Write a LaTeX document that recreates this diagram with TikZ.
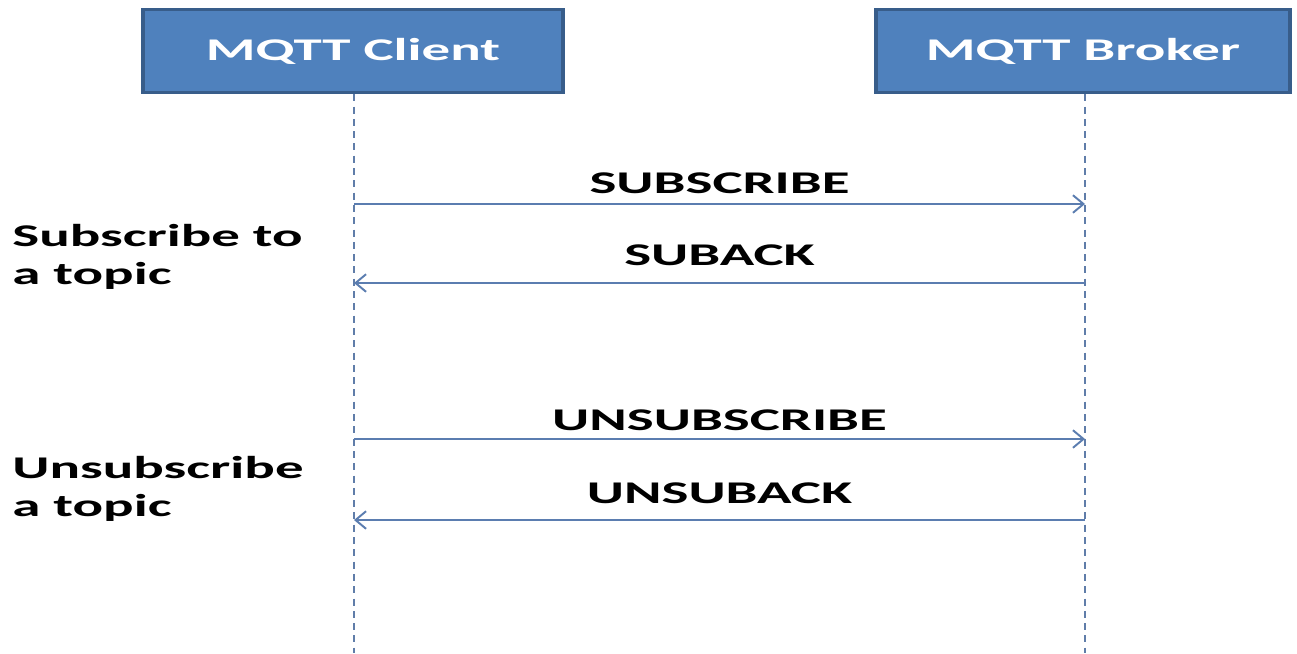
\documentclass[tikz,border=0pt]{standalone}
\usepackage{fontspec}
\setmainfont[FakeStretch=1.8]{Carlito}
\usetikzlibrary{arrows.meta}
\definecolor{boxblue}{HTML}{4F81BD}
\definecolor{boxedge}{HTML}{385D8A}
\definecolor{lineblue}{HTML}{5B7DB0}
\tikzset{
  actor/.style={draw=boxedge, line width=2pt, fill=boxblue, text=white,
    minimum height=1.66cm, inner sep=0pt, font=\fontsize{18}{22}\selectfont\bfseries},
  lifeline/.style={draw=lineblue!85!gray, line width=1.3pt, dash pattern=on 4pt off 3pt},
  msg/.style={draw=lineblue, line width=1.1pt, -{Straight Barb[length=6pt, width=10pt]}},
  msglabel/.style={font=\fontsize{18}{22}\selectfont\bfseries, inner sep=0pt},
  note/.style={font=\fontsize{18}{21.5}\selectfont\bfseries, align=left, anchor=west, inner sep=0pt}
}
\begin{document}
\begin{tikzpicture}[x=0.02cm, y=-0.02cm]
    \useasboundingbox (0,0) rectangle (1297,653);
    % participants
    \node[actor, minimum width=8.4cm] (client) at (353,51) {MQTT Client};
    \node[actor, minimum width=8.28cm] (broker) at (1083,51) {MQTT Broker};
    \coordinate (cend) at (354,653);
    \coordinate (bend) at (1085,653);
    \draw[lifeline] (client.south -| cend) -- (cend);
    \draw[lifeline] (broker.south -| bend) -- (bend);
    % message ends on the lifelines
    \foreach \i/\y in {1/204, 2/283, 3/439, 4/520} {
        \coordinate (c\i) at (354,\y);
        \coordinate (b\i) at (1085,\y);
    }
    \draw[msg] (c1) -- node[msglabel, above=5.5pt] (m1) {SUBSCRIBE} (b1);
    \draw[msg] (b2) -- node[msglabel, above=9pt] (m2) {SUBACK} (c2);
    \draw[msg] (c3) -- node[msglabel, above=4pt] (m3) {UNSUBSCRIBE} (b3);
    \draw[msg] (b4) -- node[msglabel, above=8.5pt] (m4) {UNSUBACK} (c4);
    % side notes
    \node[note] (subnote) at (12,257) {Subscribe to\\a topic};
    \node[note] (unsubnote) at (12,489) {Unsubscribe\\a topic};
\end{tikzpicture}
\end{document}
